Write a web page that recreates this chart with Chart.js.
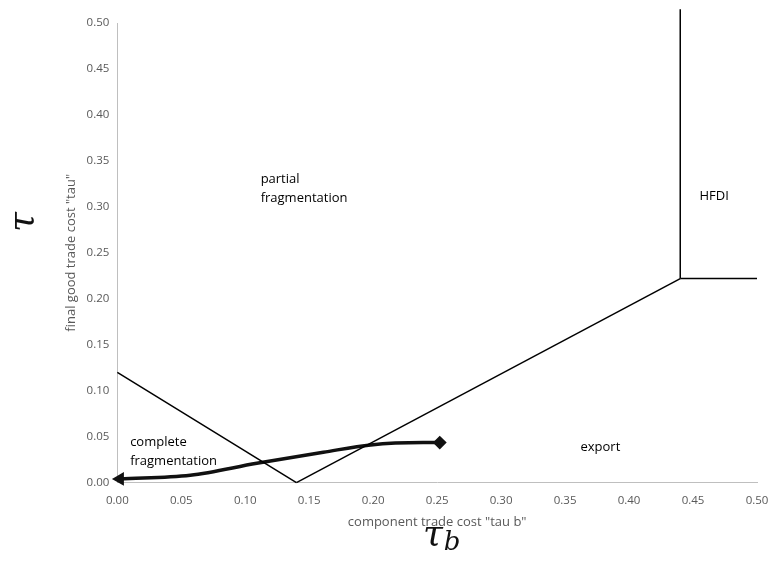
<!DOCTYPE html>
<html>
<head>
<meta charset="utf-8">
<script src="https://cdn.jsdelivr.net/npm/chart.js@4.4.1/dist/chart.umd.min.js"></script>
<style>
  html, body { margin: 0; padding: 0; background: #fff; }
  #wrap { width: 771px; height: 573px; }
</style>
</head>
<body>
<div id="wrap"><canvas id="chart" width="771" height="573"></canvas></div>
<script>
// boundaries between regimes (x = tau b, y = tau)
var leftBoundX = [0, 0.14];
var leftBoundY = [0.12, 0];
var exportBoundX = [0.14, 0.44];
var exportBoundY = [0, 0.222];
var hfdiVertX = [0.44, 0.44];
var hfdiVertY = [0.222, 0.515];
var hfdiHorizX = [0.44, 0.5];
var hfdiHorizY = [0.222, 0.222];

// hand drawn path
var pathX = [0.002, 0.057, 0.109, 0.161, 0.198, 0.239, 0.252];
var pathY = [0.004, 0.008, 0.021, 0.033, 0.041, 0.0435, 0.0435];

// region labels
var regionText = [["partial", "fragmentation"], ["HFDI"], ["complete", "fragmentation"], ["export"]];
var regionX = [0.112, 0.455, 0.01, 0.362];
var regionY = [0.330, 0.312, 0.044, 0.038];

var xTicks = [0, 0.05, 0.1, 0.15, 0.2, 0.25, 0.3, 0.35, 0.4, 0.45, 0.5];
var yTicks = [0, 0.05, 0.1, 0.15, 0.2, 0.25, 0.3, 0.35, 0.4, 0.45, 0.5];

function pts(xs, ys) {
    return xs.map(function (x, i) { return { x: x, y: ys[i] }; });
}

function boundary(xs, ys) {
    return {
        data: pts(xs, ys),
        showLine: true,
        borderColor: "#000",
        borderWidth: 1.5,
        pointRadius: 0,
        clip: false
    };
}

var pathStyles = pathX.map(function (x, i) {
    if (i === 0) return "triangle";
    if (i === pathX.length - 1) return "rectRot";
    return "circle";
});
var pathRadius = pathX.map(function (x, i) {
    return (i === 0 || i === pathX.length - 1) ? 4.5 : 0;
});
var pathRotation = pathX.map(function (x, i) { return i === 0 ? -90 : 0; });

var labelPlugin = {
    id: "labels",
    afterDatasetsDraw: function (chart) {
        var ctx = chart.ctx;
        var xs = chart.scales.x, ys = chart.scales.y;
        ctx.save();
        ctx.fillStyle = "#000";
        ctx.font = "13px 'Open Sans'";
        ctx.textBaseline = "middle";
        ctx.textAlign = "left";
        regionText.forEach(function (lines, i) {
            var px = xs.getPixelForValue(regionX[i]);
            var py = ys.getPixelForValue(regionY[i]);
            lines.forEach(function (t, j) {
                ctx.fillText(t, px, py + j * 19);
            });
        });

        // handwritten tau marks
        ctx.fillStyle = "#111";
        ctx.font = "italic 36px 'DejaVu Serif'";
        ctx.textAlign = "center";
        ctx.save();
        ctx.translate(24, 222);
        ctx.rotate(-Math.PI / 2);
        ctx.fillText("\u03c4", 0, 0);
        ctx.restore();
        ctx.fillText("\u03c4", 433, 536);
        ctx.font = "italic 26px 'DejaVu Serif'";
        ctx.fillText("b", 452, 543);
        ctx.restore();
    }
};

new Chart(document.getElementById("chart"), {
    type: "scatter",
    data: {
        datasets: [
            boundary(leftBoundX, leftBoundY),
            boundary(exportBoundX, exportBoundY),
            boundary(hfdiVertX, hfdiVertY),
            boundary(hfdiHorizX, hfdiHorizY),
            {
                data: pts(pathX, pathY),
                showLine: true,
                borderColor: "#111",
                backgroundColor: "#111",
                borderWidth: 3.5,
                cubicInterpolationMode: "monotone",
                pointStyle: pathStyles,
                pointRadius: pathRadius,
                pointRotation: pathRotation,
                clip: false
            }
        ]
    },
    options: {
        responsive: false,
        animation: false,
        layout: { padding: { left: 63, right: 0, top: 23, bottom: 43 } },
        plugins: {
            legend: { display: false },
            tooltip: { enabled: false }
        },
        scales: {
            x: {
                type: "linear",
                min: 0,
                max: 0.5,
                afterBuildTicks: function (s) { s.ticks = xTicks.map(function (v) { return { value: v }; }); },
                afterFit: function (s) { s.paddingRight = 14; },
                grid: { display: false, drawTicks: false },
                border: { display: true, color: "#bfbfbf" },
                ticks: {
                    color: "#595959",
                    font: { family: "'Open Sans'", size: 11.5 },
                    padding: 11,
                    maxRotation: 0,
                    callback: function (v) { return v.toFixed(2); }
                },
                title: {
                    display: true,
                    text: 'component trade cost "tau b"',
                    color: "#595959",
                    font: { family: "'Open Sans'", size: 13 },
                    padding: { top: -4, bottom: 0 }
                }
            },
            y: {
                type: "linear",
                min: 0,
                max: 0.5,
                afterBuildTicks: function (s) { s.ticks = yTicks.map(function (v) { return { value: v }; }); },
                grid: { display: false, drawTicks: false },
                border: { display: true, color: "#bfbfbf" },
                ticks: {
                    color: "#595959",
                    font: { family: "'Open Sans'", size: 11.5 },
                    padding: 8,
                    callback: function (v) { return v.toFixed(2); }
                },
                title: {
                    display: true,
                    text: 'final good trade cost "tau"',
                    color: "#595959",
                    font: { family: "'Open Sans'", size: 13 },
                    padding: { top: 0, bottom: 0 }
                }
            }
        }
    },
    plugins: [labelPlugin]
});
</script>
</body>
</html>
